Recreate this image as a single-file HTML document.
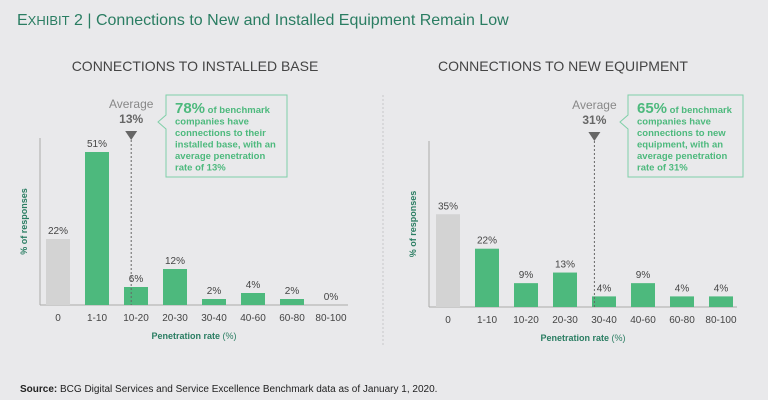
<!DOCTYPE html>
<html><head><meta charset="utf-8"><style>
body{margin:0;width:768px;height:400px;background:#e9e9eb;font-family:"Liberation Sans",sans-serif;overflow:hidden}
svg{display:block}
</style></head><body>
<svg width="768" height="400" id="s">
<text x="17" y="25" font-size="16" fill="#2a7d62"><tspan font-size="16">E</tspan><tspan font-size="13">XHIBIT</tspan> 2 | Connections to New and Installed Equipment Remain Low</text>
<text x="195" y="71" font-size="14" fill="#444" text-anchor="middle">CONNECTIONS TO INSTALLED BASE</text>
<text x="563" y="71" font-size="14" fill="#444" text-anchor="middle">CONNECTIONS TO NEW EQUIPMENT</text>
<line x1="383" y1="95" x2="383" y2="345" stroke="#c8c8c8" stroke-dasharray="2,2"/>
<text x="20" y="392" font-size="10" fill="#222"><tspan font-weight="bold">Source:</tspan> BCG Digital Services and Service Excellence Benchmark data as of January 1, 2020.</text>
</svg>
<script>
const categories=["0","1-10","10-20","20-30","30-40","40-60","60-80","80-100"];
const binLow=[0,1,10,20,30,40,60,80];
const binHigh=[1,10,20,30,40,60,80,100];
const leftValues=[22,51,6,12,2,4,2,0];
const rightValues=[35,22,9,13,4,9,4,4];
const leftAverage=13;
const rightAverage=31;
const NS="http://www.w3.org/2000/svg";
const svg=document.getElementById('s');
function mk(tag,attrs,text){const e=document.createElementNS(NS,tag);for(const k in attrs)e.setAttribute(k,attrs[k]);if(text!==undefined)e.textContent=text;svg.appendChild(e);return e;}
function chart(p){
  const base=p.base, x0=p.x0, step=39, bw=24, scale=p.scale;
  const xb=i=>p.firstBar+i*step;
  const yv=v=>base-v*scale;
  let a=mk('line',{x1:x0,y1:p.top,x2:x0,y2:base,stroke:'#aaa','stroke-width':1});
  
  a=mk('line',{x1:x0,y1:base,x2:x0+308,y2:base,stroke:'#aaa','stroke-width':1});
  
  p.values.forEach((v,i)=>{
    const r=mk('rect',{x:xb(i),y:yv(v),width:bw,height:v*scale,fill:i==0?'#d3d3d3':'#4db97d'});
    
    
    const t=mk('text',{x:xb(i)+bw/2,y:yv(v)-5,'font-size':10,fill:'#444','text-anchor':'middle'},v+'%');
    
    
    const c=mk('text',{x:xb(i)+bw/2,y:base+16,'font-size':10,fill:'#444','text-anchor':'middle'},categories[i]);
    
    
  });
  let idx=0;for(let i=0;i<binLow.length;i++){if(p.avg>=binLow[i])idx=i;}
  const frac=(p.avg-binLow[idx])/(binHigh[idx]-binLow[idx]);
  const ax=xb(idx)+frac*bw;
  const l=mk('line',{x1:ax,y1:p.triY+9,x2:ax,y2:base,stroke:'#666','stroke-dasharray':'2,2'});
  
  const tr=mk('polygon',{points:`${ax-6},${p.triY} ${ax+6},${p.triY} ${ax},${p.triY+9}`,fill:'#666'});
  
  const at=mk('text',{x:ax,y:p.triY-23,'font-size':12,fill:'#888','text-anchor':'middle'},'Average');
  
  const av=mk('text',{x:ax,y:p.triY-8,'font-size':12,'font-weight':'bold',fill:'#666','text-anchor':'middle'},p.avg+'%');
  
  const bx=p.boxX,by=95,bw2=p.boxW,bh=82;
  const box=mk('path',{d:`M${bx},${by} H${bx+bw2} V${by+bh} H${bx} V${by+34} L${bx-8},${by+27} L${bx},${by+20} Z`,fill:'none',stroke:'#7fcfa8','stroke-width':1});
  
  p.lines.forEach((s,i)=>{
    const t=mk('text',{x:bx+9,y:by+18+i*11.5,'font-size':9.5,'font-weight':'bold',fill:'#4db97d'});
    if(i==0){const a1=document.createElementNS(NS,'tspan');a1.setAttribute('font-size','15');a1.textContent=p.pct;t.appendChild(a1);const a2=document.createElementNS(NS,'tspan');a2.textContent=' '+s;t.appendChild(a2);}
    else t.textContent=s;
    
  });
  const yt=mk('text',{x:0,y:0,'font-size':9,'font-weight':'bold',fill:'#2a7d62','text-anchor':'middle',transform:`translate(${x0-13},${(p.top+base)/2}) rotate(-90)`},'% of responses');
  
  const xt=mk('text',{x:x0+154,y:base+34,'font-size':9,'font-weight':'bold',fill:'#2a7d62','text-anchor':'middle'},'');
  xt.innerHTML='Penetration rate <tspan font-weight="normal">(%)</tspan>';
  
}
chart({side:'left',values:leftValues,avg:leftAverage,x0:40,firstBar:46,base:305,top:138,scale:3.0,triY:131,boxX:166,boxW:121,pct:'78%',
  lines:['of benchmark','companies have','connections to their','installed base, with an','average penetration','rate of 13%']});
chart({side:'right',values:rightValues,avg:rightAverage,x0:429,firstBar:436,base:307,top:141,scale:2.65,triY:132,boxX:628,boxW:115,pct:'65%',
  lines:['of benchmark','companies have','connections to new','equipment, with an','average penetration','rate of 31%']});
</script>
</body></html>
